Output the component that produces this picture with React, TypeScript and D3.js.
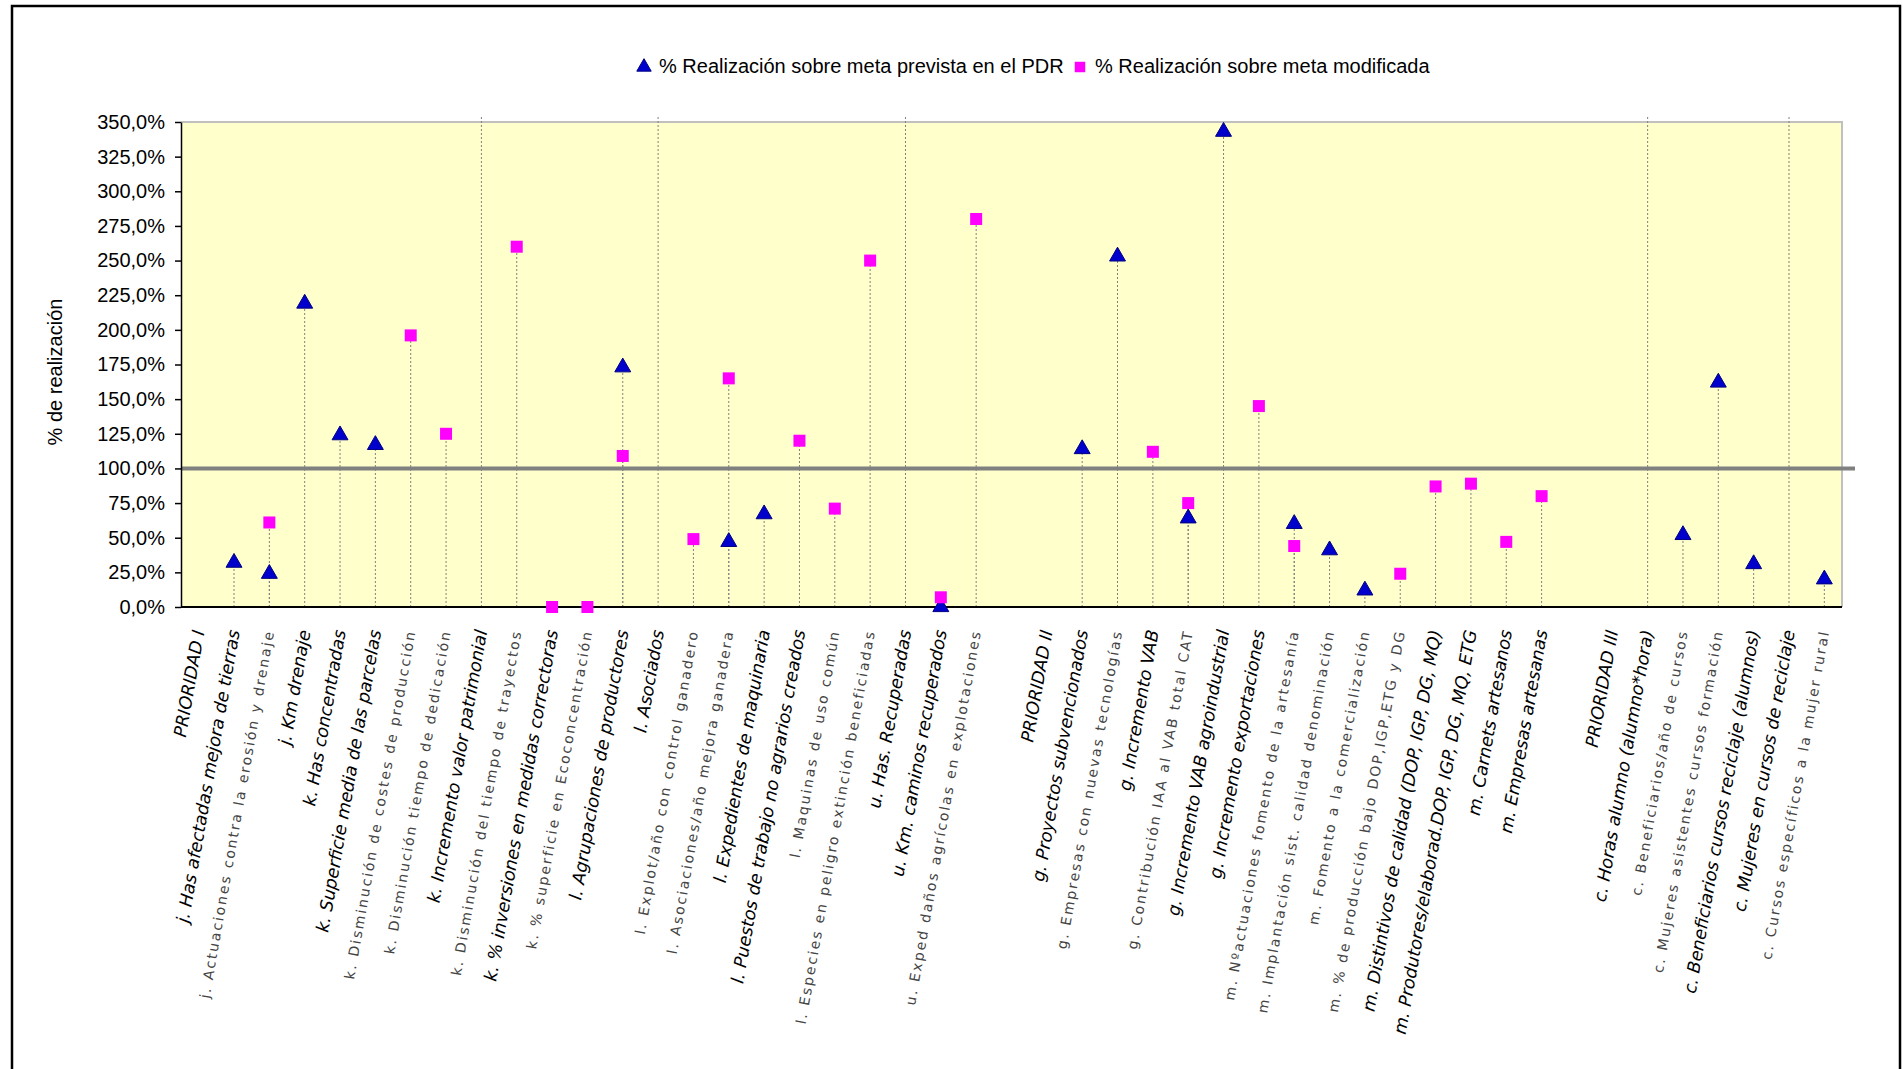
import React, { useEffect, useRef } from "react";
import * as d3 from "d3";

// categorías del eje X (vacías = separación entre prioridades)
const categories = [
  "PRIORIDAD I",
  "j. Has afectadas mejora de tierras",
  "j. Actuaciones contra la erosión y drenaje",
  "j. Km drenaje",
  "k. Has concentradas",
  "k. Superficie media de las parcelas",
  "k. Disminución de costes de producción",
  "k. Disminución tiempo de dedicación",
  "k. Incremento valor patrimonial",
  "k. Disminución del tiempo de trayectos",
  "k. % inversiones en medidas correctoras",
  "k. % superficie en Ecoconcentración",
  "l. Agrupaciones de productores",
  "l. Asociados",
  "l. Explot/año con control ganadero",
  "l. Asociaciones/año mejora ganadera",
  "l. Expedientes de maquinaria",
  "l. Puestos de trabajo no agrarios creados",
  "l. Maquinas de uso común",
  "l. Especies en peligro extinción beneficiadas",
  "u. Has.  Recuperadas",
  "u. Km. caminos recuperados",
  "u. Exped daños agrícolas en explotaciones",
  "",
  "PRIORIDAD II",
  "g. Proyectos subvencionados",
  "g. Empresas con nuevas tecnologías",
  "g. Incremento VAB",
  "g. Contribución IAA al VAB total CAT",
  "g. Incremento VAB agroindustrial",
  "g. Incremento exportaciones",
  "m. Nºactuaciones fomento de la artesanía",
  "m. Implantación sist. calidad denominación",
  "m. Fomento a la comercialización",
  "m. % de producción bajo DOP,IGP,ETG y DG",
  "m. Distintivos de calidad (DOP, IGP, DG, MQ)",
  "m. Produtores/elaborad.DOP, IGP, DG, MQ, ETG",
  "m. Carnets artesanos",
  "m. Empresas artesanas",
  "",
  "PRIORIDAD III",
  "c. Horas alumno (alumno*hora)",
  "c. Beneficiarios/año de cursos",
  "c. Mujeres asistentes cursos formación",
  "c. Beneficiarios cursos reciclaje (alumnos)",
  "c. Mujeres en cursos de reciclaje",
  "c. Cursos específicos a la mujer rural",
];

// % realización sobre meta prevista en el PDR (400 = fuera de escala, por encima de 350%)
const metaPDR: (number | null)[] = [
  null, 32, 24, 219, 124, 117, null, null, 400, null,
  null, null, 173, 400, null, 47, 67, null, null, null,
  400, 0, null, null, null, 114, 253, null, 64, 343,
  null, 60, 41, 12, null, null, null, null, null, null,
  null, 400, 52, 162, 31, 400, 20,
];

// % realización sobre meta modificada
const metaModificada: (number | null)[] = [
  null, null, 61, null, null, null, 196, 125, null, 260,
  0, 0, 109, null, 49, 165, null, 120, 71, 250,
  null, 7, 280, null, null, null, null, 112, 75, null,
  145, 44, null, null, 24, 87, 89, 47, 80, null,
  null, null, null, null, null, null, null,
];

const yTicks = [0, 25, 50, 75, 100, 125, 150, 175, 200, 225, 250, 275, 300, 325, 350];
const referencia = 100;
const legendLabels = [
  "% Realización sobre meta prevista en el PDR",
  "% Realización sobre meta modificada",
];

// etiquetas que en el original salen con la fuente fina
const lightLabels = new Set([2, 6, 7, 9, 11, 14, 15, 18, 19, 22, 26, 28, 31, 32, 33, 34, 42, 43, 46]);

const W = 1903;
const H = 1069;
const left = 181, right = 1842, top = 122, bottom = 607;
const ARIAL = "'Liberation Sans', Arial, sans-serif";
const VERDANA = "'DejaVu Sans', Verdana, sans-serif";

const App = () => {
  const svgRef = useRef<SVGSVGElement>(null);

  useEffect(() => {
    const svg = d3.select(svgRef.current);
    svg.selectAll("*").remove();

    const x = d3.scaleBand<number>().domain(d3.range(categories.length)).range([left, right]);
    const cx = (i: number) => (x(i) as number) + x.bandwidth() / 2;
    const y = d3.scaleLinear().domain([0, 350]).range([bottom, top]);
    const yMax = y.domain()[1];

    // marco del gráfico
    svg.append("rect")
      .attr("x", 12).attr("y", 6).attr("width", 1888).attr("height", 1100)
      .attr("fill", "#fff").attr("stroke", "#000").attr("stroke-width", 2.5);

    // área de trazado
    svg.append("rect")
      .attr("x", left).attr("y", top).attr("width", right - left).attr("height", bottom - top)
      .attr("fill", "#FFFFCC");
    svg.append("path")
      .attr("d", `M${left},${top}H${right}V${bottom}`)
      .attr("fill", "none").attr("stroke", "#C0C0C0").attr("stroke-width", 2);

    // líneas de proyección
    const series = [metaPDR, metaModificada];
    series.forEach(values => {
      const pts = values.map((v, i) => ({ v, i })).filter(d => d.v !== null) as { v: number, i: number }[];
      svg.append("g").selectAll("line").data(pts).join("line")
        .attr("x1", d => cx(d.i)).attr("x2", d => cx(d.i))
        .attr("y1", y(0))
        .attr("y2", d => d.v > yMax ? y(yMax) - 7 : y(d.v))
        .attr("stroke", "#808080").attr("stroke-width", 1).attr("stroke-dasharray", "2,2");
    });

    // línea del 100%
    svg.append("line")
      .attr("x1", left).attr("x2", right + 13)
      .attr("y1", y(referencia)).attr("y2", y(referencia))
      .attr("stroke", "#808080").attr("stroke-width", 4);

    // eje Y
    const yAxis = d3.axisLeft(y)
      .tickValues(yTicks)
      .tickSize(6)
      .tickSizeOuter(0)
      .tickPadding(10)
      // @ts-ignore
      .tickFormat(d => (+d).toFixed(1).replace(".", ",") + "%");
    const gy = svg.append("g").attr("transform", `translate(${left},0)`)
      // @ts-ignore
      .call(yAxis);
    gy.attr("font-family", ARIAL).attr("font-size", 20);
    gy.select(".domain").attr("stroke", "#000").attr("stroke-width", 1.5);
    gy.selectAll(".tick line").attr("stroke", "#000").attr("stroke-width", 1.5);
    gy.selectAll(".tick text").attr("fill", "#000");

    // eje X
    svg.append("line")
      .attr("x1", left).attr("x2", right)
      .attr("y1", y(0)).attr("y2", y(0))
      .attr("stroke", "#000").attr("stroke-width", 2);

    // etiquetas de categorías
    svg.append("g").selectAll("text").data(categories.map((c, i) => ({ c, i })).filter(d => d.c !== ""))
      .join("text")
      .attr("transform", d => `translate(${cx(d.i)},630) rotate(-80)`)
      .attr("text-anchor", "end")
      .attr("dominant-baseline", "central")
      .attr("font-family", VERDANA)
      .attr("font-size", d => lightLabels.has(d.i) ? 14 : 17.5)
      .attr("font-style", d => lightLabels.has(d.i) ? "normal" : "italic")
      .attr("letter-spacing", d => lightLabels.has(d.i) ? 2 : 0)
      .attr("fill", d => lightLabels.has(d.i) ? "#444" : "#000")
      .text(d => d.c);

    // título eje Y
    svg.append("text")
      .attr("transform", "translate(55,372) rotate(-90)")
      .attr("text-anchor", "middle").attr("dominant-baseline", "central")
      .attr("font-family", ARIAL).attr("font-size", 20)
      .text("% de realización");

    // marcadores
    const tri = d3.symbol().type(d3.symbolTriangle).size(110);
    const sq = d3.symbol().type(d3.symbolSquare).size(144);

    const triPts = metaPDR.map((v, i) => ({ v, i })).filter(d => d.v !== null && d.v <= yMax) as { v: number, i: number }[];
    svg.append("g").selectAll("path").data(triPts).join("path")
      .attr("d", tri() as string)
      .attr("transform", d => `translate(${cx(d.i)},${y(d.v)})`)
      .attr("fill", "#0000CC").attr("stroke", "#000080").attr("stroke-width", 1);

    const sqPts = metaModificada.map((v, i) => ({ v, i })).filter(d => d.v !== null && d.v <= yMax) as { v: number, i: number }[];
    svg.append("g").selectAll("path").data(sqPts).join("path")
      .attr("d", sq() as string)
      .attr("transform", d => `translate(${cx(d.i)},${y(d.v)})`)
      .attr("fill", "#FF00FF");

    // leyenda
    const lg = svg.append("g").attr("font-family", ARIAL).attr("font-size", 20);
    lg.append("path").attr("d", d3.symbol().type(d3.symbolTriangle).size(90)() as string)
      .attr("transform", "translate(644,67)")
      .attr("fill", "#0000CC").attr("stroke", "#000080");
    lg.append("text").attr("x", 659).attr("y", 66).attr("dominant-baseline", "central").text(legendLabels[0]);
    lg.append("path").attr("d", d3.symbol().type(d3.symbolSquare).size(110)() as string)
      .attr("transform", "translate(1080,67)").attr("fill", "#FF00FF");
    lg.append("text").attr("x", 1095).attr("y", 66).attr("dominant-baseline", "central").text(legendLabels[1]);
  }, []);

  return (
    <svg ref={svgRef} width={W} height={H}
         style={{ position: "absolute", left: 0, top: 0, background: "#fff" }} />
  );
};

export default App;
